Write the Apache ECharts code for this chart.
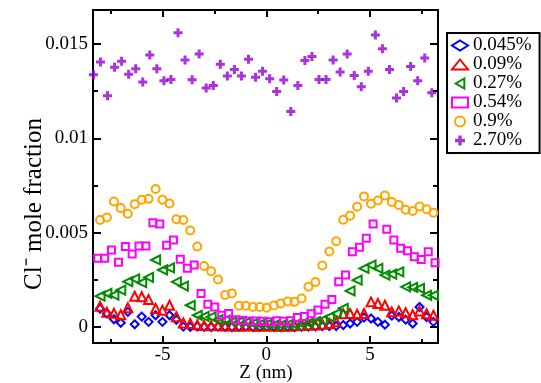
<!DOCTYPE html>
<html>
<head>
<meta charset="utf-8">
<script src="https://cdn.jsdelivr.net/npm/echarts@6/dist/echarts.min.js"></script>
<style>
  html, body { margin: 0; padding: 0; background: #fff; }
  #chart { width: 541px; height: 383px; }
</style>
</head>
<body>
<div id="chart"></div>
<script>
// Z positions (nm) of the bins
const zPlus = [-8.34, -8.00, -7.66, -7.32, -6.98, -6.64, -6.30, -5.96, -5.62, -5.28, -4.94, -4.60, -4.26, -3.92, -3.58, -3.24, -2.90, -2.56, -2.22, -1.88, -1.54, -1.20, -0.86, -0.52, -0.18, 0.16, 0.50, 0.84, 1.18, 1.52, 1.86, 2.20, 2.54, 2.88, 3.22, 3.56, 3.90, 4.24, 4.58, 4.92, 5.26, 5.60, 5.94, 6.28, 6.62, 6.96, 7.30, 7.64, 7.98];
const zLow = [-8.02, -7.69, -7.35, -7.02, -6.68, -6.35, -6.01, -5.68, -5.34, -5.01, -4.67, -4.34, -4.00, -3.67, -3.33, -3.00, -2.66, -2.33, -1.99, -1.66, -1.32, -0.99, -0.65, -0.32, 0.02, 0.36, 0.69, 1.03, 1.36, 1.70, 2.03, 2.37, 2.70, 3.04, 3.37, 3.71, 4.04, 4.38, 4.71, 5.05, 5.38, 5.72, 6.05, 6.39, 6.72, 7.06, 7.39, 7.73, 8.06];
const zMag = [-8.13, -7.80, -7.47, -7.13, -6.80, -6.47, -6.14, -5.81, -5.47, -5.14, -4.81, -4.48, -4.15, -3.81, -3.48, -3.15, -2.82, -2.49, -2.15, -1.82, -1.49, -1.16, -0.83, -0.49, -0.16, 0.17, 0.50, 0.83, 1.17, 1.50, 1.83, 2.16, 2.49, 2.83, 3.16, 3.49, 3.82, 4.15, 4.49, 4.82, 5.15, 5.48, 5.81, 6.15, 6.48, 6.81, 7.14, 7.47, 7.81, 8.14];

// Cl- mole fraction for each concentration
const y0045 = [0.00097, 0.00071, 0.00041, 0.00022, 0.0008, 0.00014, 0.00055, 0.00027, 0.00062, 0.00027, 0.00062, 0.00038, 0.00002, 0.00001,
  0.00002, 0.00001, 0, 0.00002, 0.00001, 0, 0.00001, 0.00002, 0, 0.00001, 0.00002,
  0.00001, 0, 0.00002, 0, 0.00001, 0.00002, 0.00003, 0.00004, 0.00005, 0.00005, 0.0001, 0.00018, 0.00027, 0.0005, 0.00045, 0.00027, 0.00012, 0.0006, 0.00053, 0.00039, 0.00018, 0.00106, 0.00053, 0.00027];
const y009 = [0.0011, 0.00078, 0.00073, 0.00065, 0.00102, 0.00163, 0.0016, 0.00145, 0.00098, 0.00089, 0.00115, 0.00054, 0.00021, 0.00018,
  0.00012, 0.00008, 0.00006, 0.00008, 0.00005, 0.00006, 0.00004, 0.00006, 0.00005, 0.00004, 0.00006,
  0.00004, 0.00005, 0.00004, 0.00006, 0.00008, 0.0001, 0.0001, 0.00015, 0.00018, 0.00027, 0.0007, 0.00071, 0.00067, 0.00071, 0.00133, 0.00124, 0.00115, 0.0008, 0.00085, 0.00075, 0.00065, 0.00085, 0.0007, 0.00062];
const y027 = [0.00163, 0.00178, 0.00169, 0.00195, 0.0024, 0.00255, 0.00235, 0.00263, 0.00355, 0.00302,
  0.00313, 0.00239, 0.00217, 0.00115, 0.00062, 0.00056, 0.00053, 0.00039, 0.00036, 0.00027,
  0.00027, 0.00023, 0.00018, 0.00014, 0.00014,
  0.0001, 0.0001, 0.00012, 0.00012, 0.00016, 0.0002, 0.00028, 0.00036, 0.00053, 0.00071,
  0.00098, 0.00191, 0.00248, 0.0031, 0.00328, 0.0031, 0.00275, 0.0028, 0.00292, 0.00213,
  0.0021, 0.00204, 0.00168, 0.00168];
const y054 = [0.00364, 0.00364, 0.00408, 0.00343, 0.00426, 0.00387, 0.00429, 0.00429, 0.00553, 0.00546,
  0.00433, 0.00461, 0.00359, 0.00311, 0.00328, 0.00178, 0.00121, 0.00106, 0.00062, 0.00071,
  0.00038, 0.00035, 0.00032, 0.00031, 0.0003,
  0.00028, 0.00033, 0.0003, 0.00033, 0.0005, 0.00055, 0.0007, 0.0009, 0.00121, 0.00146,
  0.00239, 0.00275, 0.00399, 0.00422, 0.0047, 0.00546, null, 0.00518, 0.00461, 0.00417,
  0.00404, 0.00372, 0.00358, 0.00399, 0.0034];
const y09 = [0.00567, 0.0058, 0.00665, 0.0063, 0.006, 0.00651, 0.00674, 0.00679, 0.00731, 0.00674,
  0.00654, 0.00571, 0.00567, 0.00511, 0.00426, 0.00323, 0.00295, 0.00252, 0.00169, 0.00178,
  0.00112, 0.00112, 0.00106, 0.00106, 0.00102,
  0.00114, 0.00124, 0.00135, 0.00133, 0.00151, 0.00213, 0.00238, 0.00326, 0.004, 0.00454,
  0.00568, 0.0059, 0.00637, 0.00692, 0.00653, 0.0067, 0.00697, 0.00663, 0.00647, 0.00621,
  0.00615, 0.00638, 0.00624, 0.00606];
const y270 = [0.01337, 0.01404, 0.01225, 0.01376, 0.01408, 0.0134, 0.01369, 0.01298, 0.01441, 0.01369,
  0.01305, 0.01312, 0.01559, 0.01415, 0.0131, 0.01447, 0.01266, 0.0128, 0.01392, 0.0133,
  0.01365, 0.0133, 0.01419, 0.01324, 0.01355, 0.01316, 0.01248, 0.01309, 0.01142, 0.0128,
  0.01412, 0.01433, 0.01312, 0.01312, 0.01415, 0.01351, 0.01447, 0.01333, 0.01273, 0.01355,
  0.01548, 0.01475, 0.01365, 0.01213, 0.01248, 0.0138, 0.01305, 0.01426, 0.01241];

const seriesNames = ["0.045%", "0.09%", "0.27%", "0.54%", "0.9%", "2.70%"];

// axis ticks
const xMajor = [-5, 0, 5];
const xMinor = [-7.5, -2.5, 2.5, 7.5];
const yMajor = [0, 0.005, 0.01, 0.015];
const yMinor = [0.0025, 0.0075, 0.0125];

const FONT = "Liberation Serif";
const pair = (zs, ys) => zs.map((z, i) => [z, ys[i]]).filter((p) => p[1] != null);

const chart = echarts.init(document.getElementById("chart"));

const mkX = (pos, ticks, len, labels) => ({
  type: "value", gridIndex: 0, position: pos, min: -8.36, max: 8.28,
  axisLine: { show: true, onZero: false, lineStyle: { color: "#000", width: 2 } },
  axisTick: { show: true, inside: true, length: len, customValues: ticks, lineStyle: { color: "#000", width: 2 } },
  axisLabel: labels
    ? { show: true, customValues: ticks, margin: 3, color: "#000", fontSize: 19, fontFamily: FONT }
    : { show: false, customValues: ticks },
  splitLine: { show: false },
});
const mkY = (pos, ticks, len, labels) => ({
  type: "value", gridIndex: 0, position: pos, min: -0.00085, max: 0.0168,
  axisLine: { show: true, onZero: false, lineStyle: { color: "#000", width: 2 } },
  axisTick: { show: true, inside: true, length: len, customValues: ticks, lineStyle: { color: "#000", width: 2 } },
  axisLabel: labels
    ? { show: true, customValues: ticks, margin: 5, color: "#000", fontSize: 19, fontFamily: FONT }
    : { show: false, customValues: ticks },
  splitLine: { show: false },
});

const xAxes = [mkX("bottom", xMajor, 7, true), mkX("bottom", xMinor, 4, false), mkX("top", xMajor, 7, false), mkX("top", xMinor, 4, false)];
const yAxes = [mkY("left", yMajor, 8, true), mkY("left", yMinor, 5, false), mkY("right", yMajor, 8, false), mkY("right", yMinor, 5, false)];

const hollow = (name, data, symbol, size, color) => ({
  name, type: "scatter", data, symbol, symbolSize: size,
  itemStyle: { color: "rgba(0,0,0,0)", borderColor: color, borderWidth: 2, opacity: 1 },
  emphasis: { disabled: true }, clip: false,
});

chart.setOption({
  animation: false,
  backgroundColor: "#fff",
  grid: { left: 93, top: 10, width: 345, height: 333, outerBoundsMode: "none", containLabel: false },
  xAxis: xAxes,
  yAxis: yAxes,
  graphic: [
    {
      type: "text", x: 34, y: 204, rotation: Math.PI / 2,
      style: {
        text: "Cl\u207B mole fraction", fill: "#000", font: "25px 'Liberation Serif'",
        textAlign: "center", textVerticalAlign: "middle",
      },
    },
    {
      type: "text", x: 266, y: 373,
      style: {
        text: "Z (nm)", fill: "#000", font: "19px 'Liberation Serif'",
        textAlign: "center", textVerticalAlign: "middle",
      },
    },
  ],
  legend: {
    orient: "vertical", left: 447, top: 33,
    padding: [3, 8, 3, 4], itemGap: 0, itemWidth: 16, itemHeight: 10,
    borderColor: "#000", borderWidth: 2, backgroundColor: "#fff",
    textStyle: { color: "#000", fontSize: 19, fontFamily: FONT, lineHeight: 18 },
    data: seriesNames,
  },
  series: [
    hollow(seriesNames[0], pair(zLow, y0045), "diamond", 8, "#0000ff"),
    hollow(seriesNames[1], pair(zLow, y009), "triangle", 9, "#ff0000"),
    hollow(seriesNames[2], pair(zLow, y027), "path://M0,5L8.66,0L8.66,10Z", 9, "#008b00"),
    hollow(seriesNames[3], pair(zMag, y054), "rect", 7, "#ff00ff"),
    hollow(seriesNames[4], pair(zLow, y09), "circle", 8, "#ffa500"),
    {
      name: seriesNames[5], type: "scatter", data: pair(zPlus, y270),
      symbol: "path://M3,0H6V3H9V6H6V9H3V6H0V3H3Z", symbolSize: 9,
      itemStyle: { color: "#9400d3" }, emphasis: { disabled: true }, clip: false,
    },
  ],
});
</script>
</body>
</html>
